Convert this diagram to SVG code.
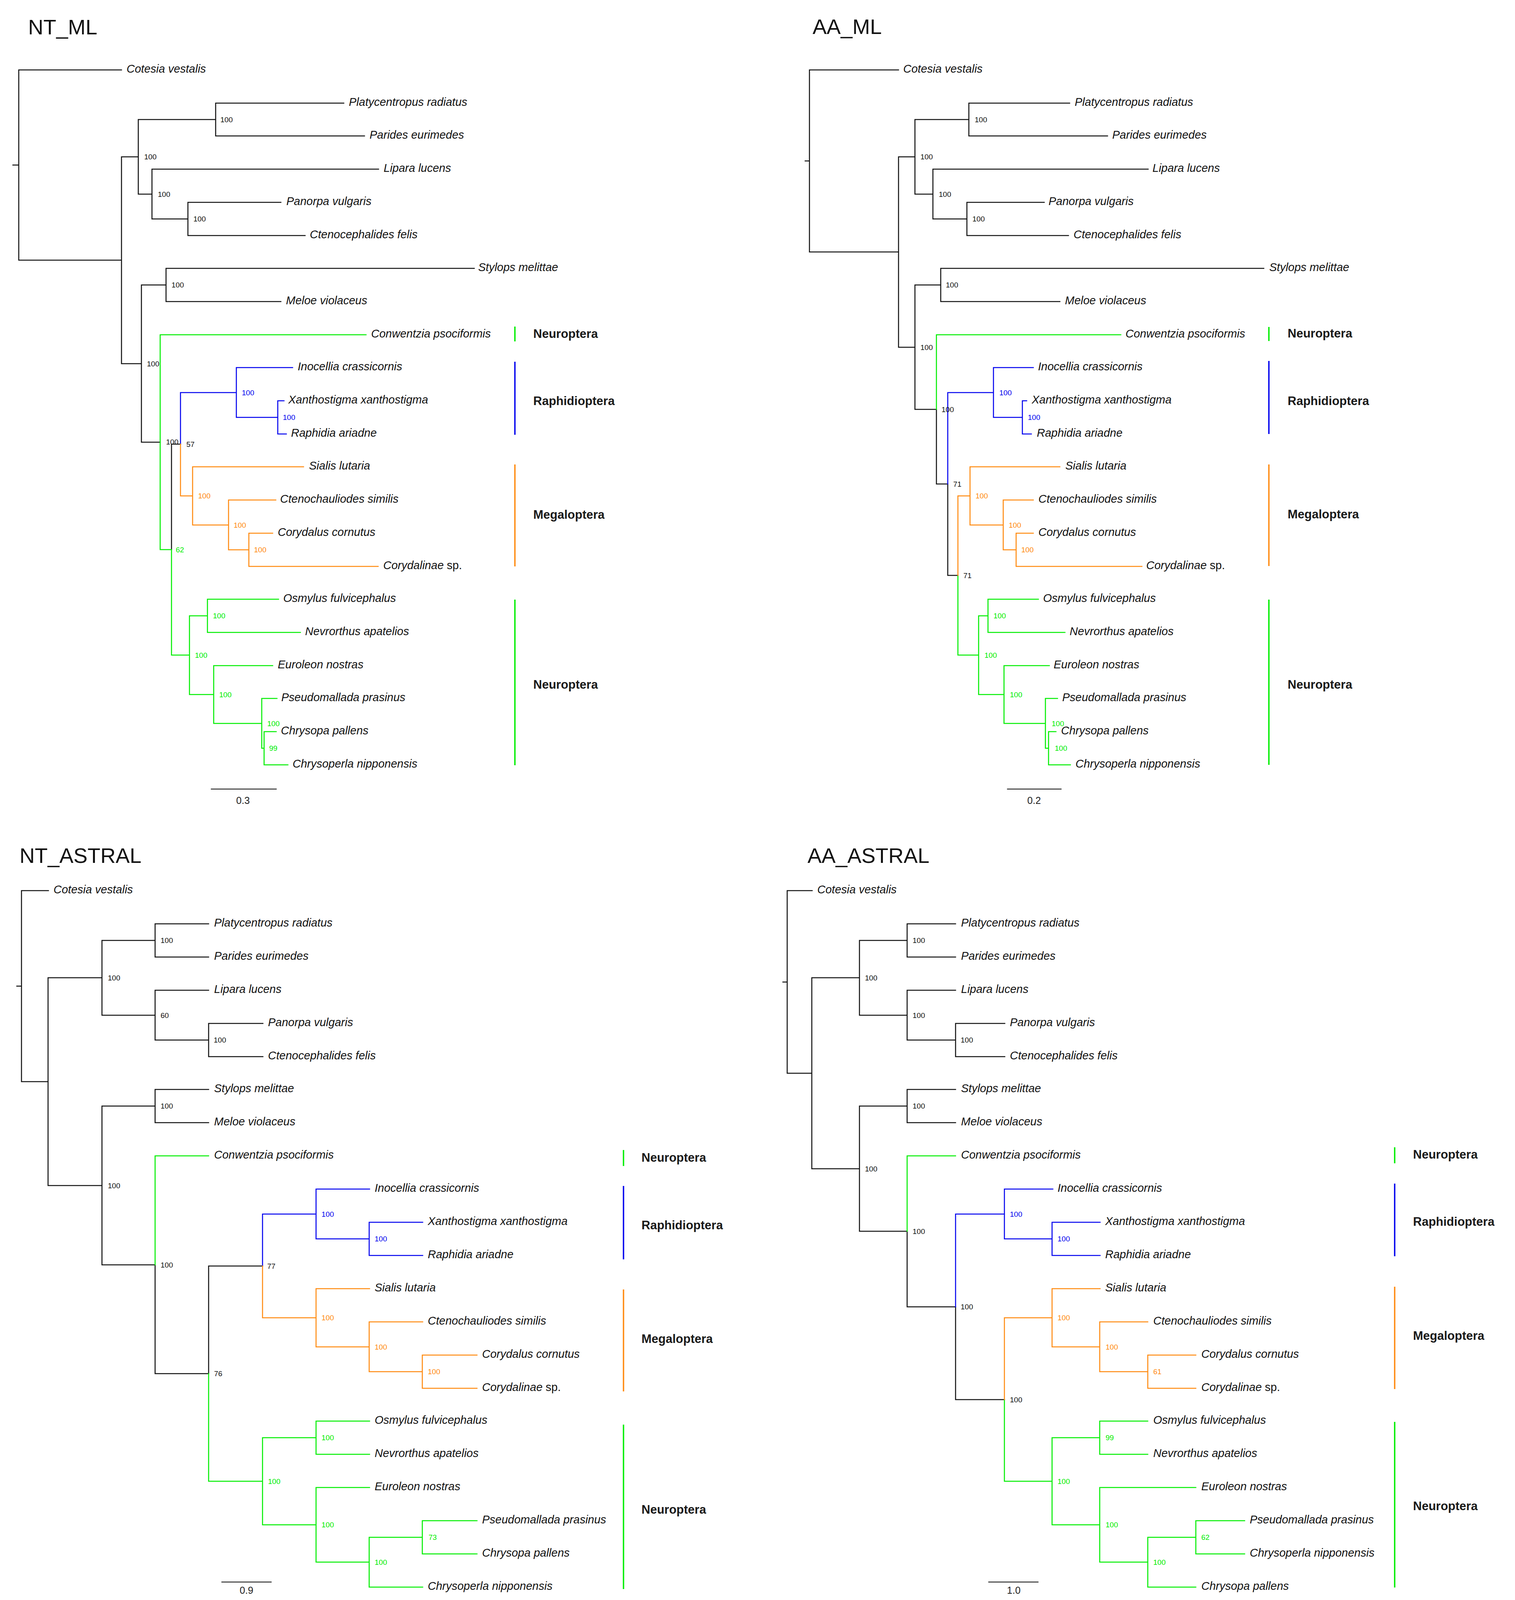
<svg xmlns="http://www.w3.org/2000/svg" width="3878" height="4228" viewBox="0 0 3878 4228">
<style>
path{fill:none;stroke-width:2.6;stroke-linecap:square}
.k{stroke:#111}.g{stroke:#00ee00}.b{stroke:#0000ee}.o{stroke:#ff8a10}
.bar{stroke-width:3.5;stroke-linecap:butt}
.sc{stroke:#333;stroke-width:2.6}
text{font-family:"Liberation Sans",Arial,sans-serif}
.tip{font-style:italic;font-size:29px;fill:#111}
.sup{font-size:19px}
.sk{fill:#111}.sg{fill:#00ee00}.sb{fill:#0000ee}.so{fill:#ff8a10}
.clade{font-weight:bold;font-size:31px;fill:#1a1a1a}
.title{font-size:54px;fill:#111}
.scl{font-size:25px;fill:#222;text-anchor:middle}
.up{font-style:normal}
</style>
<rect width="3878" height="4228" fill="#fff"/>

<!-- ===================== NT_ML ===================== -->
<g id="panel-nt-ml">
<text class="title" x="72" y="88">NT_ML</text>
<g id="nt-ml-connectors">
<path class="k" d="M33 422.5H48 M48 179V666 M48 179H311 M48 666H311 M311 401.5V931 M311 401.5H354 M354 306V497 M354 306H552 M552 264V348 M552 264H880 M552 348H933 M354 497H389 M389 433V560.5 M389 433H969 M389 560.5H481 M481 518V603 M481 518H719 M481 603H781 M311 931H362 M362 729.5V1132 M362 729.5H425 M425 687V772 M425 687H1214 M425 772H719 M362 1132H410 M439 1137V1407 M439 1137H462"/>
<path class="g" d="M410 857V1407 M410 857H937 M410 1407H439 M439 1407V1677 M439 1677H485 M485 1576.5V1778 M485 1576.5H531 M531 1534V1619 M531 1534H713 M531 1619H769 M485 1778H547 M547 1704V1852 M547 1704H698 M547 1852H670 M670 1788V1915.5 M670 1788H709 M670 1915.5H676 M676 1873V1958 M676 1873H707 M676 1958H737"/>
<path class="b" d="M462 1005V1137 M462 1005H605 M605 941V1068.5 M605 941H749 M605 1068.5H711 M711 1026V1111 M711 1026H727 M711 1111H733"/>
<path class="o" d="M462 1137V1269.5 M462 1269.5H493 M493 1195V1344 M493 1195H777 M493 1344H585 M585 1280V1407.5 M585 1280H706 M585 1407.5H637 M637 1365V1450 M637 1365H698 M637 1450H968"/>
<path class="sc" d="M541 2020H707"/>
<path class="bar g" d="M1318 836V874 M1318 1535V1959"/>
<path class="bar b" d="M1318 926V1113"/>
<path class="bar o" d="M1318 1189V1450"/>
</g>
<g id="nt-ml-tips" class="tip">
<g id="nt-ml-cotesia"><text x="324" y="186">Cotesia vestalis</text></g>
<g id="nt-ml-platycentropus"><text x="893" y="271">Platycentropus radiatus</text></g>
<g id="nt-ml-parides"><text x="946" y="355">Parides eurimedes</text></g>
<g id="nt-ml-lipara"><text x="982" y="440">Lipara lucens</text></g>
<g id="nt-ml-panorpa"><text x="733" y="525">Panorpa vulgaris</text></g>
<g id="nt-ml-ctenocephalides"><text x="793" y="610">Ctenocephalides felis</text></g>
<g id="nt-ml-stylops"><text x="1224" y="694">Stylops melittae</text></g>
<g id="nt-ml-meloe"><text x="732" y="779">Meloe violaceus</text></g>
<g id="nt-ml-conwentzia"><text x="950" y="864">Conwentzia psociformis</text></g>
<g id="nt-ml-inocellia"><text x="762" y="948">Inocellia crassicornis</text></g>
<g id="nt-ml-xanthostigma"><text x="738" y="1033">Xanthostigma xanthostigma</text></g>
<g id="nt-ml-raphidia"><text x="745" y="1118">Raphidia ariadne</text></g>
<g id="nt-ml-sialis"><text x="791" y="1202">Sialis lutaria</text></g>
<g id="nt-ml-ctenochauliodes"><text x="717" y="1287">Ctenochauliodes similis</text></g>
<g id="nt-ml-corydalus"><text x="711" y="1372">Corydalus cornutus</text></g>
<g id="nt-ml-corydalinae"><text x="981" y="1457">Corydalinae <tspan class="up">sp.</tspan></text></g>
<g id="nt-ml-osmylus"><text x="725" y="1541">Osmylus fulvicephalus</text></g>
<g id="nt-ml-nevrorthus"><text x="781" y="1626">Nevrorthus apatelios</text></g>
<g id="nt-ml-euroleon"><text x="711" y="1711">Euroleon nostras</text></g>
<g id="nt-ml-pseudomallada"><text x="720" y="1795">Pseudomallada prasinus</text></g>
<g id="nt-ml-chrysopa"><text x="719" y="1880">Chrysopa pallens</text></g>
<g id="nt-ml-chrysoperla"><text x="749" y="1965">Chrysoperla nipponensis</text></g>
</g>
<g id="nt-ml-support" class="sup">
<text class="sk" x="369" y="408">100</text>
<text class="sk" x="564" y="313">100</text>
<text class="sk" x="404" y="504">100</text>
<text class="sk" x="495" y="567">100</text>
<text class="sk" x="439" y="736">100</text>
<text class="sk" x="376" y="938">100</text>
<text class="sk" x="425" y="1138">100</text>
<text class="sk" x="477" y="1144">57</text>
<text class="sg" x="450" y="1414">62</text>
<text class="sb" x="619" y="1012">100</text>
<text class="sb" x="724" y="1075">100</text>
<text class="so" x="507" y="1276">100</text>
<text class="so" x="598" y="1351">100</text>
<text class="so" x="650" y="1414">100</text>
<text class="sg" x="499" y="1684">100</text>
<text class="sg" x="545" y="1583">100</text>
<text class="sg" x="561" y="1785">100</text>
<text class="sg" x="684" y="1859">100</text>
<text class="sg" x="689" y="1922">99</text>
</g>
<text class="scl" x="622" y="2058">0.3</text>
<g id="nt-ml-clades" class="clade">
<g id="nt-ml-clade-neu1"><text x="1365" y="865">Neuroptera</text></g>
<g id="nt-ml-clade-raph"><text x="1365" y="1037">Raphidioptera</text></g>
<g id="nt-ml-clade-meg"><text x="1365" y="1328">Megaloptera</text></g>
<g id="nt-ml-clade-neu2"><text x="1365" y="1763">Neuroptera</text></g>
</g>
</g>

<!-- ===================== AA_ML ===================== -->
<g id="panel-aa-ml">
<text class="title" x="2080" y="87">AA_ML</text>
<g id="aa-ml-connectors">
<path class="k" d="M2061 412H2072 M2072 179V645 M2072 179H2300 M2072 645H2300 M2300 401.5V889 M2300 401.5H2342 M2342 306V497 M2342 306H2480 M2480 264V348 M2480 264H2738 M2480 348H2835 M2342 497H2388 M2388 433V560.5 M2388 433H2939 M2388 560.5H2475 M2475 518V603 M2475 518H2673 M2475 603H2735 M2300 889H2342 M2342 729.5V1048 M2342 729.5H2408 M2408 687V772 M2408 687H3235 M2408 772H2713 M2342 1048H2397 M2397 1048V1239 M2397 1239H2426 M2426 1239V1473 M2426 1473H2452"/>
<path class="g" d="M2397 857V1048 M2397 857H2869 M2452 1473V1677 M2452 1677H2505 M2505 1576.5V1778 M2505 1576.5H2529 M2529 1534V1619 M2529 1534H2658 M2529 1619H2726 M2505 1778H2570 M2570 1704V1852 M2570 1704H2686 M2570 1852H2676 M2676 1788V1915.5 M2676 1788H2707 M2676 1915.5H2684 M2684 1873V1958 M2684 1873H2703 M2684 1958H2740"/>
<path class="b" d="M2426 1005V1239 M2426 1005H2543 M2543 941V1068.5 M2543 941H2645 M2543 1068.5H2617 M2617 1026V1111 M2617 1026H2628 M2617 1111H2640"/>
<path class="o" d="M2452 1269.5V1473 M2452 1269.5H2483 M2483 1195V1344 M2483 1195H2713 M2483 1344H2568 M2568 1280V1407.5 M2568 1280H2645 M2568 1407.5H2601 M2601 1365V1450 M2601 1365H2645 M2601 1450H2923"/>
<path class="sc" d="M2579 2020H2716"/>
<path class="bar g" d="M3248 837V873 M3248 1535V1958"/>
<path class="bar b" d="M3248 924V1111"/>
<path class="bar o" d="M3248 1189V1449"/>
</g>
<g id="aa-ml-tips" class="tip">
<g id="aa-ml-cotesia"><text x="2312" y="186">Cotesia vestalis</text></g>
<g id="aa-ml-platycentropus"><text x="2751" y="271">Platycentropus radiatus</text></g>
<g id="aa-ml-parides"><text x="2847" y="355">Parides eurimedes</text></g>
<g id="aa-ml-lipara"><text x="2950" y="440">Lipara lucens</text></g>
<g id="aa-ml-panorpa"><text x="2684" y="525">Panorpa vulgaris</text></g>
<g id="aa-ml-ctenocephalides"><text x="2748" y="610">Ctenocephalides felis</text></g>
<g id="aa-ml-stylops"><text x="3249" y="694">Stylops melittae</text></g>
<g id="aa-ml-meloe"><text x="2726" y="779">Meloe violaceus</text></g>
<g id="aa-ml-conwentzia"><text x="2881" y="864">Conwentzia psociformis</text></g>
<g id="aa-ml-inocellia"><text x="2657" y="948">Inocellia crassicornis</text></g>
<g id="aa-ml-xanthostigma"><text x="2641" y="1033">Xanthostigma xanthostigma</text></g>
<g id="aa-ml-raphidia"><text x="2654" y="1118">Raphidia ariadne</text></g>
<g id="aa-ml-sialis"><text x="2727" y="1202">Sialis lutaria</text></g>
<g id="aa-ml-ctenochauliodes"><text x="2658" y="1287">Ctenochauliodes similis</text></g>
<g id="aa-ml-corydalus"><text x="2658" y="1372">Corydalus cornutus</text></g>
<g id="aa-ml-corydalinae"><text x="2934" y="1457">Corydalinae <tspan class="up">sp.</tspan></text></g>
<g id="aa-ml-osmylus"><text x="2670" y="1541">Osmylus fulvicephalus</text></g>
<g id="aa-ml-nevrorthus"><text x="2738" y="1626">Nevrorthus apatelios</text></g>
<g id="aa-ml-euroleon"><text x="2697" y="1711">Euroleon nostras</text></g>
<g id="aa-ml-pseudomallada"><text x="2719" y="1795">Pseudomallada prasinus</text></g>
<g id="aa-ml-chrysopa"><text x="2716" y="1880">Chrysopa pallens</text></g>
<g id="aa-ml-chrysoperla"><text x="2753" y="1965">Chrysoperla nipponensis</text></g>
</g>
<g id="aa-ml-support" class="sup">
<text class="sk" x="2356" y="408">100</text>
<text class="sk" x="2495" y="313">100</text>
<text class="sk" x="2403" y="504">100</text>
<text class="sk" x="2489" y="567">100</text>
<text class="sk" x="2421" y="736">100</text>
<text class="sk" x="2356" y="896">100</text>
<text class="sk" x="2410" y="1055">100</text>
<text class="sk" x="2440" y="1246">71</text>
<text class="sk" x="2466" y="1480">71</text>
<text class="sb" x="2558" y="1012">100</text>
<text class="sb" x="2631" y="1075">100</text>
<text class="so" x="2497" y="1276">100</text>
<text class="so" x="2582" y="1351">100</text>
<text class="so" x="2614" y="1414">100</text>
<text class="sg" x="2520" y="1684">100</text>
<text class="sg" x="2543" y="1583">100</text>
<text class="sg" x="2585" y="1785">100</text>
<text class="sg" x="2692" y="1859">100</text>
<text class="sg" x="2700" y="1922">100</text>
</g>
<text class="scl" x="2647" y="2058">0.2</text>
<g id="aa-ml-clades" class="clade">
<g id="aa-ml-clade-neu1"><text x="3296" y="864">Neuroptera</text></g>
<g id="aa-ml-clade-raph"><text x="3296" y="1037">Raphidioptera</text></g>
<g id="aa-ml-clade-meg"><text x="3296" y="1327">Megaloptera</text></g>
<g id="aa-ml-clade-neu2"><text x="3296" y="1763">Neuroptera</text></g>
</g>
</g>

<!-- ===================== NT_ASTRAL ===================== -->
<g id="panel-nt-astral">
<text class="title" x="50" y="2209">NT_ASTRAL</text>
<g id="nt-astral-connectors">
<path class="k" d="M43 2524.5H55 M55 2280V2769 M55 2280H124 M55 2769H123 M123 2503V3035 M123 2503H261 M261 2407.5V2599 M261 2407.5H397 M397 2365V2450 M397 2365H534 M397 2450H534 M261 2599H397 M397 2535V2662.5 M397 2535H534 M397 2662.5H534 M534 2620V2705 M534 2620H673 M534 2705H673 M123 3035H261 M261 2831.5V3238 M261 2831.5H397 M397 2789V2874 M397 2789H534 M397 2874H534 M261 3238H397 M397 3238V3516.5 M397 3516.5H534 M534 3241V3516.5 M534 3241H672"/>
<path class="g" d="M397 2959V3238 M397 2959H534 M534 3516.5V3792 M534 3792H672 M672 3680.5V3903.5 M672 3680.5H809 M809 3638V3723 M809 3638H946 M809 3723H946 M672 3903.5H809 M809 3808V3999 M809 3808H946 M809 3999H945 M945 3935.5V4063 M945 3935.5H1081 M1081 3893V3978 M1081 3893H1221 M1081 3978H1221 M945 4063H1082"/>
<path class="b" d="M672 3108V3241 M672 3108H809 M809 3044V3171.5 M809 3044H946 M809 3171.5H945 M945 3129V3214 M945 3129H1082 M945 3214H1082"/>
<path class="o" d="M672 3241V3373.5 M672 3373.5H809 M809 3299V3448 M809 3299H946 M809 3448H945 M945 3384V3511.5 M945 3384H1082 M945 3511.5H1081 M1081 3469V3554 M1081 3469H1221 M1081 3554H1221"/>
<path class="sc" d="M568 4050H694"/>
<path class="bar g" d="M1596 2944V2985 M1596 3647V4068"/>
<path class="bar b" d="M1596 3036V3224"/>
<path class="bar o" d="M1596 3301V3562"/>
</g>
<g id="nt-astral-tips" class="tip">
<g id="nt-astral-cotesia"><text x="137" y="2287">Cotesia vestalis</text></g>
<g id="nt-astral-platycentropus"><text x="548" y="2372">Platycentropus radiatus</text></g>
<g id="nt-astral-parides"><text x="548" y="2457">Parides eurimedes</text></g>
<g id="nt-astral-lipara"><text x="548" y="2542">Lipara lucens</text></g>
<g id="nt-astral-panorpa"><text x="686" y="2627">Panorpa vulgaris</text></g>
<g id="nt-astral-ctenocephalides"><text x="686" y="2712">Ctenocephalides felis</text></g>
<g id="nt-astral-stylops"><text x="548" y="2796">Stylops melittae</text></g>
<g id="nt-astral-meloe"><text x="548" y="2881">Meloe violaceus</text></g>
<g id="nt-astral-conwentzia"><text x="548" y="2966">Conwentzia psociformis</text></g>
<g id="nt-astral-inocellia"><text x="959" y="3051">Inocellia crassicornis</text></g>
<g id="nt-astral-xanthostigma"><text x="1095" y="3136">Xanthostigma xanthostigma</text></g>
<g id="nt-astral-raphidia"><text x="1095" y="3221">Raphidia ariadne</text></g>
<g id="nt-astral-sialis"><text x="959" y="3306">Sialis lutaria</text></g>
<g id="nt-astral-ctenochauliodes"><text x="1095" y="3391">Ctenochauliodes similis</text></g>
<g id="nt-astral-corydalus"><text x="1234" y="3476">Corydalus cornutus</text></g>
<g id="nt-astral-corydalinae"><text x="1234" y="3561">Corydalinae <tspan class="up">sp.</tspan></text></g>
<g id="nt-astral-osmylus"><text x="959" y="3645">Osmylus fulvicephalus</text></g>
<g id="nt-astral-nevrorthus"><text x="959" y="3730">Nevrorthus apatelios</text></g>
<g id="nt-astral-euroleon"><text x="959" y="3815">Euroleon nostras</text></g>
<g id="nt-astral-pseudomallada"><text x="1234" y="3900">Pseudomallada prasinus</text></g>
<g id="nt-astral-chrysopa"><text x="1234" y="3985">Chrysopa pallens</text></g>
<g id="nt-astral-chrysoperla"><text x="1095" y="4070">Chrysoperla nipponensis</text></g>
</g>
<g id="nt-astral-support" class="sup">
<text class="sk" x="276" y="2510">100</text>
<text class="sk" x="411" y="2414">100</text>
<text class="sk" x="411" y="2606">60</text>
<text class="sk" x="547" y="2669">100</text>
<text class="sk" x="276" y="3042">100</text>
<text class="sk" x="411" y="2838">100</text>
<text class="sk" x="411" y="3245">100</text>
<text class="sk" x="548" y="3523">76</text>
<text class="sk" x="684" y="3248">77</text>
<text class="sb" x="823" y="3115">100</text>
<text class="sb" x="959" y="3178">100</text>
<text class="so" x="823" y="3380">100</text>
<text class="so" x="959" y="3455">100</text>
<text class="so" x="1095" y="3518">100</text>
<text class="sg" x="686" y="3799">100</text>
<text class="sg" x="823" y="3687">100</text>
<text class="sg" x="823" y="3910">100</text>
<text class="sg" x="959" y="4006">100</text>
<text class="sg" x="1097" y="3942">73</text>
</g>
<text class="scl" x="631" y="4080">0.9</text>
<g id="nt-astral-clades" class="clade">
<g id="nt-astral-clade-neu1"><text x="1642" y="2974">Neuroptera</text></g>
<g id="nt-astral-clade-raph"><text x="1642" y="3147">Raphidioptera</text></g>
<g id="nt-astral-clade-meg"><text x="1642" y="3438">Megaloptera</text></g>
<g id="nt-astral-clade-neu2"><text x="1642" y="3875">Neuroptera</text></g>
</g>
</g>

<!-- ===================== AA_ASTRAL ===================== -->
<g id="panel-aa-astral">
<text class="title" x="2067" y="2209">AA_ASTRAL</text>
<g id="aa-astral-connectors">
<path class="k" d="M2004 2514H2015 M2015 2280V2747.5 M2015 2280H2079 M2015 2747.5H2078 M2078 2503V2992 M2078 2503H2200 M2200 2407.5V2599 M2200 2407.5H2322 M2322 2365V2450 M2322 2365H2446 M2322 2450H2446 M2200 2599H2322 M2322 2535V2662.5 M2322 2535H2446 M2322 2662.5H2446 M2446 2620V2705 M2446 2620H2572 M2446 2705H2572 M2078 2992H2200 M2200 2831.5V3152 M2200 2831.5H2322 M2322 2789V2874 M2322 2789H2446 M2322 2874H2446 M2200 3152H2322 M2322 3152V3345.5 M2322 3345.5H2446 M2446 3345.5V3583 M2446 3583H2571"/>
<path class="g" d="M2322 2959V3152 M2322 2959H2446 M2571 3583V3792 M2571 3792H2693 M2693 3680.5V3903.5 M2693 3680.5H2815 M2815 3638V3723 M2815 3638H2938 M2815 3723H2938 M2693 3903.5H2815 M2815 3808V3999 M2815 3808H3061 M2815 3999H2938 M2938 3935.5V4063 M2938 3935.5H3061 M3061 3893V3978 M3061 3893H3186 M3061 3978H3186 M2938 4063H3061"/>
<path class="b" d="M2446 3108V3345.5 M2446 3108H2571 M2571 3044V3171.5 M2571 3044H2695 M2571 3171.5H2693 M2693 3129V3214 M2693 3129H2816 M2693 3214H2816"/>
<path class="o" d="M2571 3373.5V3583 M2571 3373.5H2693 M2693 3299V3448 M2693 3299H2816 M2693 3448H2815 M2815 3384V3511.5 M2815 3384H2938 M2815 3511.5H2938 M2938 3469V3554 M2938 3469H3061 M2938 3554H3061"/>
<path class="sc" d="M2531 4050H2657"/>
<path class="bar g" d="M3570 2937V2978 M3570 3640V4064"/>
<path class="bar b" d="M3570 3030V3216"/>
<path class="bar o" d="M3570 3294V3556"/>
</g>
<g id="aa-astral-tips" class="tip">
<g id="aa-astral-cotesia"><text x="2092" y="2287">Cotesia vestalis</text></g>
<g id="aa-astral-platycentropus"><text x="2460" y="2372">Platycentropus radiatus</text></g>
<g id="aa-astral-parides"><text x="2460" y="2457">Parides eurimedes</text></g>
<g id="aa-astral-lipara"><text x="2460" y="2542">Lipara lucens</text></g>
<g id="aa-astral-panorpa"><text x="2585" y="2627">Panorpa vulgaris</text></g>
<g id="aa-astral-ctenocephalides"><text x="2585" y="2712">Ctenocephalides felis</text></g>
<g id="aa-astral-stylops"><text x="2460" y="2796">Stylops melittae</text></g>
<g id="aa-astral-meloe"><text x="2460" y="2881">Meloe violaceus</text></g>
<g id="aa-astral-conwentzia"><text x="2460" y="2966">Conwentzia psociformis</text></g>
<g id="aa-astral-inocellia"><text x="2707" y="3051">Inocellia crassicornis</text></g>
<g id="aa-astral-xanthostigma"><text x="2829" y="3136">Xanthostigma xanthostigma</text></g>
<g id="aa-astral-raphidia"><text x="2829" y="3221">Raphidia ariadne</text></g>
<g id="aa-astral-sialis"><text x="2829" y="3306">Sialis lutaria</text></g>
<g id="aa-astral-ctenochauliodes"><text x="2952" y="3391">Ctenochauliodes similis</text></g>
<g id="aa-astral-corydalus"><text x="3075" y="3476">Corydalus cornutus</text></g>
<g id="aa-astral-corydalinae"><text x="3075" y="3561">Corydalinae <tspan class="up">sp.</tspan></text></g>
<g id="aa-astral-osmylus"><text x="2952" y="3645">Osmylus fulvicephalus</text></g>
<g id="aa-astral-nevrorthus"><text x="2952" y="3730">Nevrorthus apatelios</text></g>
<g id="aa-astral-euroleon"><text x="3075" y="3815">Euroleon nostras</text></g>
<g id="aa-astral-pseudomallada"><text x="3199" y="3900">Pseudomallada prasinus</text></g>
<g id="aa-astral-chrysoperla"><text x="3199" y="3985">Chrysoperla nipponensis</text></g>
<g id="aa-astral-chrysopa"><text x="3075" y="4070">Chrysopa pallens</text></g>
</g>
<g id="aa-astral-support" class="sup">
<text class="sk" x="2214" y="2510">100</text>
<text class="sk" x="2336" y="2414">100</text>
<text class="sk" x="2336" y="2606">100</text>
<text class="sk" x="2459" y="2669">100</text>
<text class="sk" x="2214" y="2999">100</text>
<text class="sk" x="2336" y="2838">100</text>
<text class="sk" x="2336" y="3159">100</text>
<text class="sk" x="2459" y="3352">100</text>
<text class="sb" x="2585" y="3115">100</text>
<text class="sb" x="2707" y="3178">100</text>
<text class="sk" x="2585" y="3590">100</text>
<text class="so" x="2707" y="3380">100</text>
<text class="so" x="2830" y="3455">100</text>
<text class="so" x="2952" y="3518">61</text>
<text class="sg" x="2707" y="3799">100</text>
<text class="sg" x="2830" y="3687">99</text>
<text class="sg" x="2830" y="3910">100</text>
<text class="sg" x="2952" y="4006">100</text>
<text class="sg" x="3075" y="3942">62</text>
</g>
<text class="scl" x="2595" y="4080">1.0</text>
<g id="aa-astral-clades" class="clade">
<g id="aa-astral-clade-neu1"><text x="3617" y="2966">Neuroptera</text></g>
<g id="aa-astral-clade-raph"><text x="3617" y="3138">Raphidioptera</text></g>
<g id="aa-astral-clade-meg"><text x="3617" y="3430">Megaloptera</text></g>
<g id="aa-astral-clade-neu2"><text x="3617" y="3866">Neuroptera</text></g>
</g>
</g>
</svg>
